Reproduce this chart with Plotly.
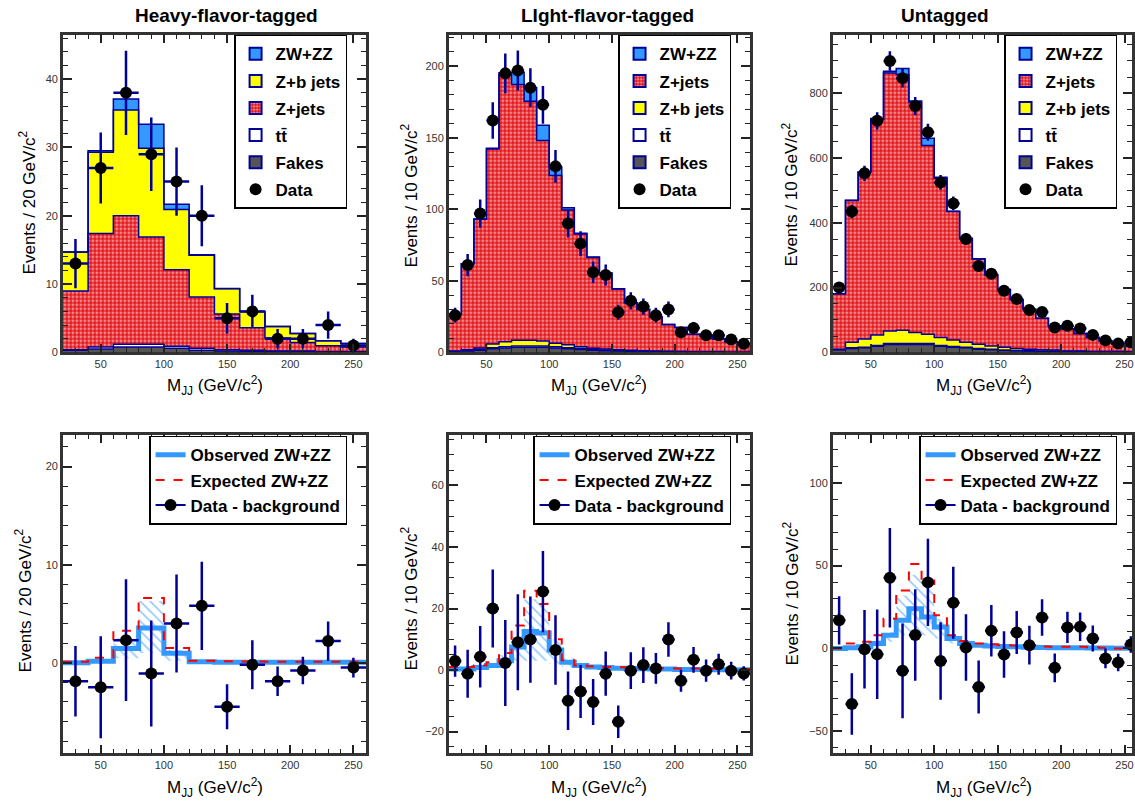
import numpy as np
import plotly.graph_objects as go

W, H = 1135, 808
FONT = "Liberation Sans, Arial, Helvetica, sans-serif"
NAVY = "#000099"
BLUE = "#3399ff"
YEL = "#ffff00"
RED = "#e3161b"
GRAY = "#555555"

# ---------------- data ----------------
edges_hf = list(range(20, 261, 20))
edges_10 = list(range(20, 261, 10))

# Heavy-flavor-tagged (20 GeV bins)
fakes_hf = [0.3, 0.5, 0.8, 0.8, 0.6, 0.3, 0.2, 0.1, 0.1, 0.1, 0.05, 0.05]
tt_hf = [0.1, 0.3, 0.4, 0.4, 0.3, 0.3, 0.2, 0.2, 0.1, 0.1, 0.05, 0.05]
zjets_hf = [8.6, 16.6, 18.8, 15.7, 11.2, 7.5, 5.2, 3.3, 1.9, 1.25, 0.87, 0.7]
zb_hf = [5.7, 11.9, 15.5, 13.0, 8.8, 6.1, 3.7, 2.4, 1.7, 1.3, 0.73, 0.5]
zwzz_hf = [0.0, 0.2, 1.6, 3.5, 0.8, 0.1, 0.05, 0.0, 0.0, 0.0, 0.0, 0.0]
data_hf = [13, 27, 38, 29, 25, 20, 5, 6, 2, 2, 4, 1]

# Light-flavor-tagged (10 GeV bins)
fakes_lf = [0.5, 1.0, 1.5, 2.5, 3.0, 3.5, 3.5, 3.5, 3.0, 2.5, 2.0, 1.5, 1.2, 1.0, 0.8, 0.6, 0.5, 0.4, 0.3, 0.3, 0.2, 0.2, 0.1, 0.1]
tt_lf = [0.2, 0.4, 0.6, 0.8, 1.0, 1.0, 1.0, 1.0, 0.9, 0.8, 0.7, 0.6, 0.5, 0.4, 0.3, 0.3, 0.2, 0.2, 0.2, 0.1, 0.1, 0.1, 0.1, 0.1]
zb_lf = [0.2, 0.5, 1.0, 2.5, 3.5, 4.0, 4.0, 3.5, 2.5, 2.0, 1.2, 0.8, 0.6, 0.4, 0.3, 0.2, 0.2, 0.1, 0.1, 0.1, 0.1, 0.1, 0.0, 0.0]
zwzz_lf = [0.0, 0.1, 0.2, 0.5, 1.5, 8.5, 9.5, 10.8, 5.8, 1.5, 0.5, 0.3, 0.2, 0.1, 0.1, 0.1, 0.0, 0.0, 0.0, 0.0, 0.0, 0.0, 0.0, 0.0]
zjets_lf = [26.1, 60.0, 89.9, 136.4, 186.5, 178.8, 167.0, 140.0, 117.3, 94.2, 78.8, 63.4, 53.0, 42.5, 33.2, 28.9, 23.8, 18.8, 16.7, 12.2, 11.2, 9.1, 7.3, 5.3]
data_lf = [26, 61, 97, 162, 195, 197, 185, 173, 130, 90, 76, 56, 54, 28, 36, 32, 26, 30, 14, 17, 12, 12, 9, 6]

# Untagged (10 GeV bins)
fakes_un = [8, 12, 14, 19, 24, 24, 24, 24, 19, 16, 14, 10, 8, 6, 5, 4, 3, 3, 2, 2, 1, 1, 1, 1]
tt_un = [1, 2, 2, 2, 3, 3, 3, 3, 2, 2, 2, 2, 2, 1.5, 1, 1, 1, 1, 0.5, 0.5, 0.5, 0.5, 0.5, 0.5]
zb_un = [1, 17, 25, 33, 39, 41, 34, 29, 25, 20, 15, 13, 10, 8, 6, 5, 4, 3, 2, 2, 1, 1, 1, 0.5]
zwzz_un = [0, 0.5, 1, 2, 5, 19, 3, 22, 3, 1, 0.5, 0.5, 0.3, 0.2, 0.2, 0.1, 0, 0, 0, 0, 0, 0, 0, 0]
zjets_un = [171, 438, 515, 666, 797, 790, 712, 583, 492, 397, 320.5, 263.5, 219.7, 178.3, 150.8, 122.9, 97, 75, 67.5, 53.5, 43.5, 33.5, 23.5, 18]
data_un = [200, 435, 553, 715, 900, 847, 761, 680, 525, 460, 350, 267, 243, 190, 165, 131, 125, 77, 82, 74, 54, 37, 27, 31]

# Data - background panels
obs_hf = [0.0, 0.15, 1.45, 3.55, 0.95, 0.1, 0.05, 0.05, 0.05, 0.05, 0.05, 0.05]
band_lo_hf = [0.0, 0.05, 0.45, 1.0, 0.2, 0.0, 0.0, 0.0, 0.0, 0.0, 0.0, 0.0]
band_hi_hf = [0.05, 0.3, 2.5, 6.3, 1.3, 0.15, 0.1, 0.1, 0.1, 0.1, 0.1, 0.1]
exp_hf = [0.1, 0.5, 3.25, 6.6, 1.5, 0.2, 0.15, 0.12, 0.1, 0.1, 0.1, 0.1]
diff_hf = [-1.9, -2.5, 2.3, -1.1, 4.0, 5.8, -4.5, -0.2, -1.9, -0.8, 2.2, -0.5]
err_hf = [3.6, 5.2, 6.2, 5.4, 5.0, 4.5, 2.3, 2.5, 1.5, 1.4, 2.0, 1.0]

obs_lf = [0.3, 0.3, 0.8, 1.5, 3.0, 7.5, 12.5, 12.0, 6.5, 2.5, 1.5, 1.0, 0.8, 0.6, 0.5, 0.4, 0.3, 0.3, 0.2, 0.2, 0.2, 0.1, 0.1, 0.1]
band_lo_lf = [0.1, 0.1, 0.4, 0.8, 1.5, 3.0, 3.0, 3.0, 2.0, 1.0, 0.8, 0.5, 0.4, 0.3, 0.2, 0.2, 0.1, 0.1, 0.1, 0.1, 0.1, 0.0, 0.0, 0.0]
band_hi_lf = [0.5, 0.6, 1.2, 2.5, 5.0, 11.0, 23.0, 22.0, 10.0, 4.0, 2.0, 1.5, 1.2, 1.0, 0.8, 0.7, 0.6, 0.5, 0.4, 0.4, 0.3, 0.3, 0.2, 0.2]
exp_lf = [1.0, 1.0, 1.5, 2.5, 5.5, 14.5, 25.8, 21.5, 10.0, 3.2, 1.5, 1.2, 1.0, 0.9, 0.8, 0.7, 0.6, 0.6, 0.5, 0.5, 0.5, 0.4, 0.4, 0.3]
diff_lf = [2.9, -1.2, 4.3, 20.0, 2.3, 9.0, 9.9, 25.5, 6.5, -10.0, -7.0, -10.4, -1.2, -16.8, -0.2, 1.6, 0.5, 9.9, -3.5, 3.3, -0.2, 1.9, -0.2, -1.1]
err_lf = [5.1, 7.8, 10.0, 12.7, 14.0, 15.6, 14.0, 13.2, 11.3, 9.5, 8.6, 7.5, 7.2, 5.3, 6.0, 5.8, 5.0, 5.6, 3.6, 4.2, 3.6, 3.4, 2.9, 2.3]

obs_un = [0, 0.5, 1, 3, 8, 17, 24, 19, 13, 6, 3, 2, 1.5, 1.2, 1, 0.8, 0.6, 0.5, 0.5, 0.4, 0.3, 0.3, 0.2, 0.2]
band_lo_un = [0, 0.2, 0.5, 1.5, 4, 8, 8, 8, 6, 3, 2, 1, 0.8, 0.6, 0.5, 0.4, 0.3, 0.2, 0.2, 0.2, 0.1, 0.1, 0.1, 0.1]
band_hi_un = [0.3, 1, 2, 5, 10, 32, 44.5, 36.5, 18, 7, 4, 3, 2.5, 2, 1.6, 1.3, 1, 0.8, 0.8, 0.7, 0.6, 0.5, 0.4, 0.4]
exp_un = [0, 3, 4, 8, 18, 35, 51, 41, 20, 8, 4.5, 3, 2.5, 2, 1.8, 1.5, 1.2, 1, 1, 1, 0.8, 0.5, 0, 0]
diff_un = [17, -33.5, -0.5, -3.5, 42.7, -13.5, 8.1, 39.9, -7.5, 27.6, 0.6, -23.2, 10.7, -3.6, 9.7, 2, 18.7, -11.7, 12.7, 13.1, 6, -6, -8.5, 2.4]
err_un = [14.6, 18.5, 23.7, 27, 30, 28.6, 27.6, 26.3, 23.4, 21.7, 20, 16, 15.6, 14, 13, 11.7, 11, 8.7, 9.4, 8.6, 7.8, 6, 5.3, 5]

titles = ["Heavy-flavor-tagged", "LIght-flavor-tagged", "Untagged"]
ytitles = ["Events / 20 GeV/c<sup>2</sup>", "Events / 10 GeV/c<sup>2</sup>", "Events / 10 GeV/c<sup>2</sup>"]
xtitle = "M<sub>JJ</sub> (GeV/c<sup>2</sup>)"

# ---------------- figure ----------------
fig = go.Figure()


def axn(p, kind):
    return kind if p == 1 else f"{kind}{p}"


def lgn(p):
    return "legend" if p == 1 else f"legend{p}"


def step(edges, vals):
    v = list(vals)
    return list(edges), v + [v[-1]]


RED_PAT = dict(shape=".", fgcolor="white", bgcolor=RED, size=4, solidity=0.45, fillmode="overlay")


def add_stack(p, edges, comps):
    cum = np.zeros(len(edges) - 1)
    xa, ya = axn(p, "x"), axn(p, "y")
    for i, (name, vals, fill, pat, rank) in enumerate(comps):
        cum = cum + np.array(vals, dtype=float)
        xs, ys = step(edges, cum)
        kw = dict(x=xs, y=ys, mode="lines", line=dict(color=NAVY, width=1.5, shape="hv"),
                  fill="tozeroy" if i == 0 else "tonexty", fillcolor=fill,
                  showlegend=False, xaxis=xa, yaxis=ya, hoverinfo="skip")
        if pat:
            kw["fillpattern"] = pat
        fig.add_trace(go.Scatter(**kw))
    # legend swatches (no data)
    for (name, vals, fill, pat, rank) in comps:
        mk = dict(color=fill, line=dict(color=NAVY, width=2))
        if pat:
            mk["pattern"] = pat
        fig.add_trace(go.Bar(x=[None], y=[None], marker=mk, name=f"<b>{name}</b>",
                             legend=lgn(p), legendrank=rank, legendgroup=f"{p}-{name}",
                             xaxis=xa, yaxis=ya, hoverinfo="skip"))


def add_data(p, edges, vals, errs, name, legend=True):
    e = np.array(edges, dtype=float)
    c = (e[:-1] + e[1:]) / 2
    hw = (e[1:] - e[:-1]) / 2
    fig.add_trace(go.Scatter(
        x=c, y=vals, mode="markers", marker=dict(color="black", size=12),
        error_y=dict(type="data", array=errs, color=NAVY, thickness=2.5, width=0),
        error_x=dict(type="data", array=hw, color=NAVY, thickness=2.5, width=0),
        name=f"<b>{name}</b>", showlegend=legend, legend=lgn(p), legendrank=6,
        legendgroup=f"{p}-data", xaxis=axn(p, "x"), yaxis=axn(p, "y")))


TT = "tt\u0304"

add_stack(1, edges_hf, [("Fakes", fakes_hf, GRAY, None, 5), (TT, tt_hf, "white", None, 4),
                        ("Z+jets", zjets_hf, RED, RED_PAT, 3), ("Z+b jets", zb_hf, YEL, None, 2),
                        ("ZW+ZZ", zwzz_hf, BLUE, None, 1)])
add_data(1, edges_hf, data_hf, np.sqrt(data_hf), "Data")

add_stack(2, edges_10, [("Fakes", fakes_lf, GRAY, None, 5), (TT, tt_lf, "white", None, 4),
                        ("Z+b jets", zb_lf, YEL, None, 3), ("Z+jets", zjets_lf, RED, RED_PAT, 2),
                        ("ZW+ZZ", zwzz_lf, BLUE, None, 1)])
add_data(2, edges_10, data_lf, np.sqrt(data_lf), "Data")

add_stack(3, edges_10, [("Fakes", fakes_un, GRAY, None, 5), (TT, tt_un, "white", None, 4),
                        ("Z+b jets", zb_un, YEL, None, 3), ("Z+jets", zjets_un, RED, RED_PAT, 2),
                        ("ZW+ZZ", zwzz_un, BLUE, None, 1)])
add_data(3, edges_10, data_un, np.sqrt(data_un), "Data")


def add_sub(p, edges, lo, hi, obs, exp, diff, err):
    xa, ya = axn(p, "x"), axn(p, "y")
    xs, ys = step(edges, lo)
    fig.add_trace(go.Scatter(x=xs, y=ys, mode="lines", line=dict(width=0, shape="hv"),
                             showlegend=False, xaxis=xa, yaxis=ya, hoverinfo="skip"))
    xs, ys = step(edges, hi)
    fig.add_trace(go.Scatter(x=xs, y=ys, mode="lines", line=dict(width=0, shape="hv"),
                             fill="tonexty", fillcolor="rgba(0,0,0,0)",
                             fillpattern=dict(shape="\\", fgcolor=BLUE, bgcolor="rgba(0,0,0,0)",
                                              size=7, solidity=0.25, fillmode="overlay"),
                             showlegend=False, xaxis=xa, yaxis=ya, hoverinfo="skip"))
    xs, ys = step(edges, obs)
    fig.add_trace(go.Scatter(x=xs, y=ys, mode="lines", line=dict(color=BLUE, width=5, shape="hv"),
                             name="<b>Observed ZW+ZZ</b>", legend=lgn(p), legendrank=1,
                             legendgroup=f"{p}-obs", xaxis=xa, yaxis=ya))
    xs, ys = step(edges, exp)
    fig.add_trace(go.Scatter(x=xs, y=ys, mode="lines",
                             line=dict(color="red", width=2, dash="dash", shape="hv"),
                             name="<b>Expected ZW+ZZ</b>", legend=lgn(p), legendrank=2,
                             legendgroup=f"{p}-exp", xaxis=xa, yaxis=ya))
    add_data(p, edges, diff, err, "Data - background", legend=False)
    fig.add_trace(go.Scatter(x=[None], y=[None], mode="lines+markers",
                             line=dict(color=NAVY, width=2), marker=dict(color="black", size=12),
                             name="<b>Data - background</b>", legend=lgn(p), legendrank=3,
                             legendgroup=f"{p}-dl", xaxis=xa, yaxis=ya))


add_sub(4, edges_hf, band_lo_hf, band_hi_hf, obs_hf, exp_hf, diff_hf, err_hf)
add_sub(5, edges_10, band_lo_lf, band_hi_lf, obs_lf, exp_lf, diff_lf, err_lf)
add_sub(6, edges_10, band_lo_un, band_hi_un, obs_un, exp_un, diff_un, err_un)

# ---------------- layout ----------------
xdom = [[63 / W, 367 / W], [450 / W, 752 / W], [835 / W, 1.0]]
xr = [[20, 260], [20, 260], [20, 20 + (W - 835) / 1.2717]]
ydom_top = [1 - 355 / H, 1 - 35 / H]
ydom_bot = [1 - 759 / H, 1 - 438 / H]
yr = [[0, 46.5], [0, 222], [0, 981], [-9.25, 23.25], [-27.1, 76.5], [-63.3, 129]]
ydt = [(10, 2), (50, 10), (200, 50), (10, 2), (20, 5), (50, 10)]


def axis(domain, rng, dtick, mdtick, anchor):
    return dict(domain=domain, range=rng, anchor=anchor, showline=True, linecolor="#333",
                linewidth=2.5, mirror="ticks", ticks="inside", ticklen=9, tickwidth=1.5,
                tickcolor="#222", tick0=0, dtick=dtick,
                minor=dict(ticks="inside", ticklen=5, dtick=mdtick, tickcolor="#222", tickwidth=1.2),
                showgrid=False, zeroline=False,
                tickfont=dict(size=11, color="#333", family=FONT), fixedrange=True)


lay = {}
for p in range(1, 7):
    col = (p - 1) % 3
    ydom = ydom_top if p <= 3 else ydom_bot
    xk = "xaxis" if p == 1 else f"xaxis{p}"
    yk = "yaxis" if p == 1 else f"yaxis{p}"
    lay[xk] = axis(xdom[col], xr[col], 50, 10, axn(p, "y"))
    lay[yk] = axis(ydom, yr[p - 1], ydt[p - 1][0], ydt[p - 1][1], axn(p, "x"))

legend_right = [348, 733, 1120, 348, 733, 1120]
for p in range(1, 7):
    key = "legend" if p == 1 else f"legend{p}"
    top = 35 if p <= 3 else 439
    lay[key] = dict(x=legend_right[p - 1] / W, xanchor="right", y=1 - top / H, yanchor="top",
                    bgcolor="white", bordercolor="black", borderwidth=1.5,
                    font=dict(size=17, family=FONT, color="black"),
                    tracegroupgap=2 if p <= 3 else 0, itemwidth=30)

ann = []
title_x = [227, 609, 948]
for i, t in enumerate(titles):
    ann.append(dict(text=f"<b>{t}</b>", x=title_x[i] / W, y=1 - 16 / H, xref="paper", yref="paper",
                    xanchor="center", yanchor="middle",
                    showarrow=False, font=dict(size=19, family=FONT, color="black")))
ytx = [28, 410, 792, 23, 410, 793]
yty = [204, 197, 196, 605, 603, 598]
for p in range(6):
    ann.append(dict(text=ytitles[p % 3], x=ytx[p] / W, y=1 - yty[p] / H, xref="paper", yref="paper",
                    xanchor="center", yanchor="middle",
                    showarrow=False, textangle=-90, font=dict(size=17, family=FONT, color="black")))
xtx = [216, 601, 987]
for p in range(6):
    yy = 388 if p < 3 else 793
    ann.append(dict(text=xtitle, x=xtx[p % 3] / W, y=1 - yy / H, xref="paper", yref="paper",
                    xanchor="center", yanchor="middle",
                    showarrow=False, font=dict(size=17, family=FONT, color="black")))

fig.update_layout(width=W, height=H, margin=dict(l=0, r=0, t=0, b=0), paper_bgcolor="white",
                  plot_bgcolor="white", annotations=ann, font=dict(family=FONT),
                  barmode="overlay", **lay)

fig.write_html("out.html", config={"displayModeBar": False},
               post_script="document.body.style.margin='0px';document.body.style.overflow='hidden';")
